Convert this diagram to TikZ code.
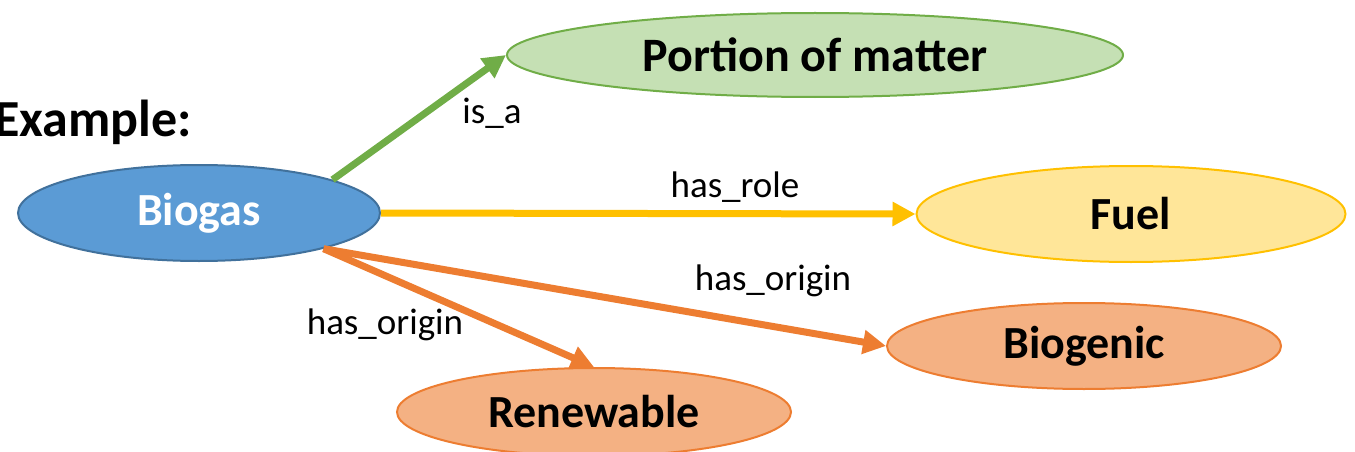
\documentclass[tikz,border=0pt]{standalone}
\usepackage{fontspec}
\setmainfont{Carlito}
\usetikzlibrary{shapes.geometric,arrows.meta}
\definecolor{bluefill}{HTML}{5B9BD5}
\definecolor{blueline}{HTML}{41719C}
\definecolor{greenfill}{HTML}{C5E0B4}
\definecolor{greenline}{HTML}{70AD47}
\definecolor{yellowfill}{HTML}{FFE699}
\definecolor{yellowline}{HTML}{FFC000}
\definecolor{orangefill}{HTML}{F4B183}
\definecolor{orangeline}{HTML}{ED7D31}
\tikzset{
  concept/.style={ellipse, inner sep=0pt, line width=2pt,
    font=\fontsize{46}{50}\selectfont\bfseries},
  rel/.style={line width=7pt, -{Triangle[length=23pt,width=23pt]}},
  lbl/.style={font=\fontsize{37}{40}\selectfont, inner sep=0pt}
}
\begin{document}
\begin{tikzpicture}[x=1pt,y=-1pt]
\useasboundingbox (0,0) rectangle (1355,452);
\node[concept, draw=greenline, fill=greenfill, minimum width=616pt, minimum height=84pt, font=\fontsize{48}{52}\selectfont\bfseries] (matter) at (815,55) {Portion of matter};
\node[concept, draw=blueline, fill=bluefill, text=white, minimum width=362pt, minimum height=96pt] (biogas) at (199,213) {Biogas};
\node[concept, draw=yellowline, fill=yellowfill, minimum width=429pt, minimum height=96pt] (fuel) at (1131,214) {Fuel};
\node[concept, draw=orangeline, fill=orangefill, minimum width=394pt, minimum height=86pt] (biogenic) at (1084,346) {Biogenic};
\node[concept, draw=orangeline, fill=orangefill, minimum width=394pt, minimum height=88pt] (renewable) at (594,412) {Renewable};
\node[anchor=east, inner sep=0pt, font=\fontsize{52}{56}\selectfont\bfseries] (example) at (192,122) {Example:};
\draw[rel, greenline] (biogas.14.5) -- (matter.west);
\draw[rel, yellowline] (biogas.east) -- (fuel.west);
\draw[rel, orangeline] (biogas.-16) -- (biogenic.west);
\draw[rel, orangeline] (biogas.-16) -- (renewable.north);
\node[lbl] (lisa) at (492,113) {is\_a};
\node[lbl] (lrole) at (735,187) {has\_role};
\node[lbl] (lorig1) at (773,281) {has\_origin};
\node[lbl] (lorig2) at (385,325) {has\_origin};
\end{tikzpicture}
\end{document}
